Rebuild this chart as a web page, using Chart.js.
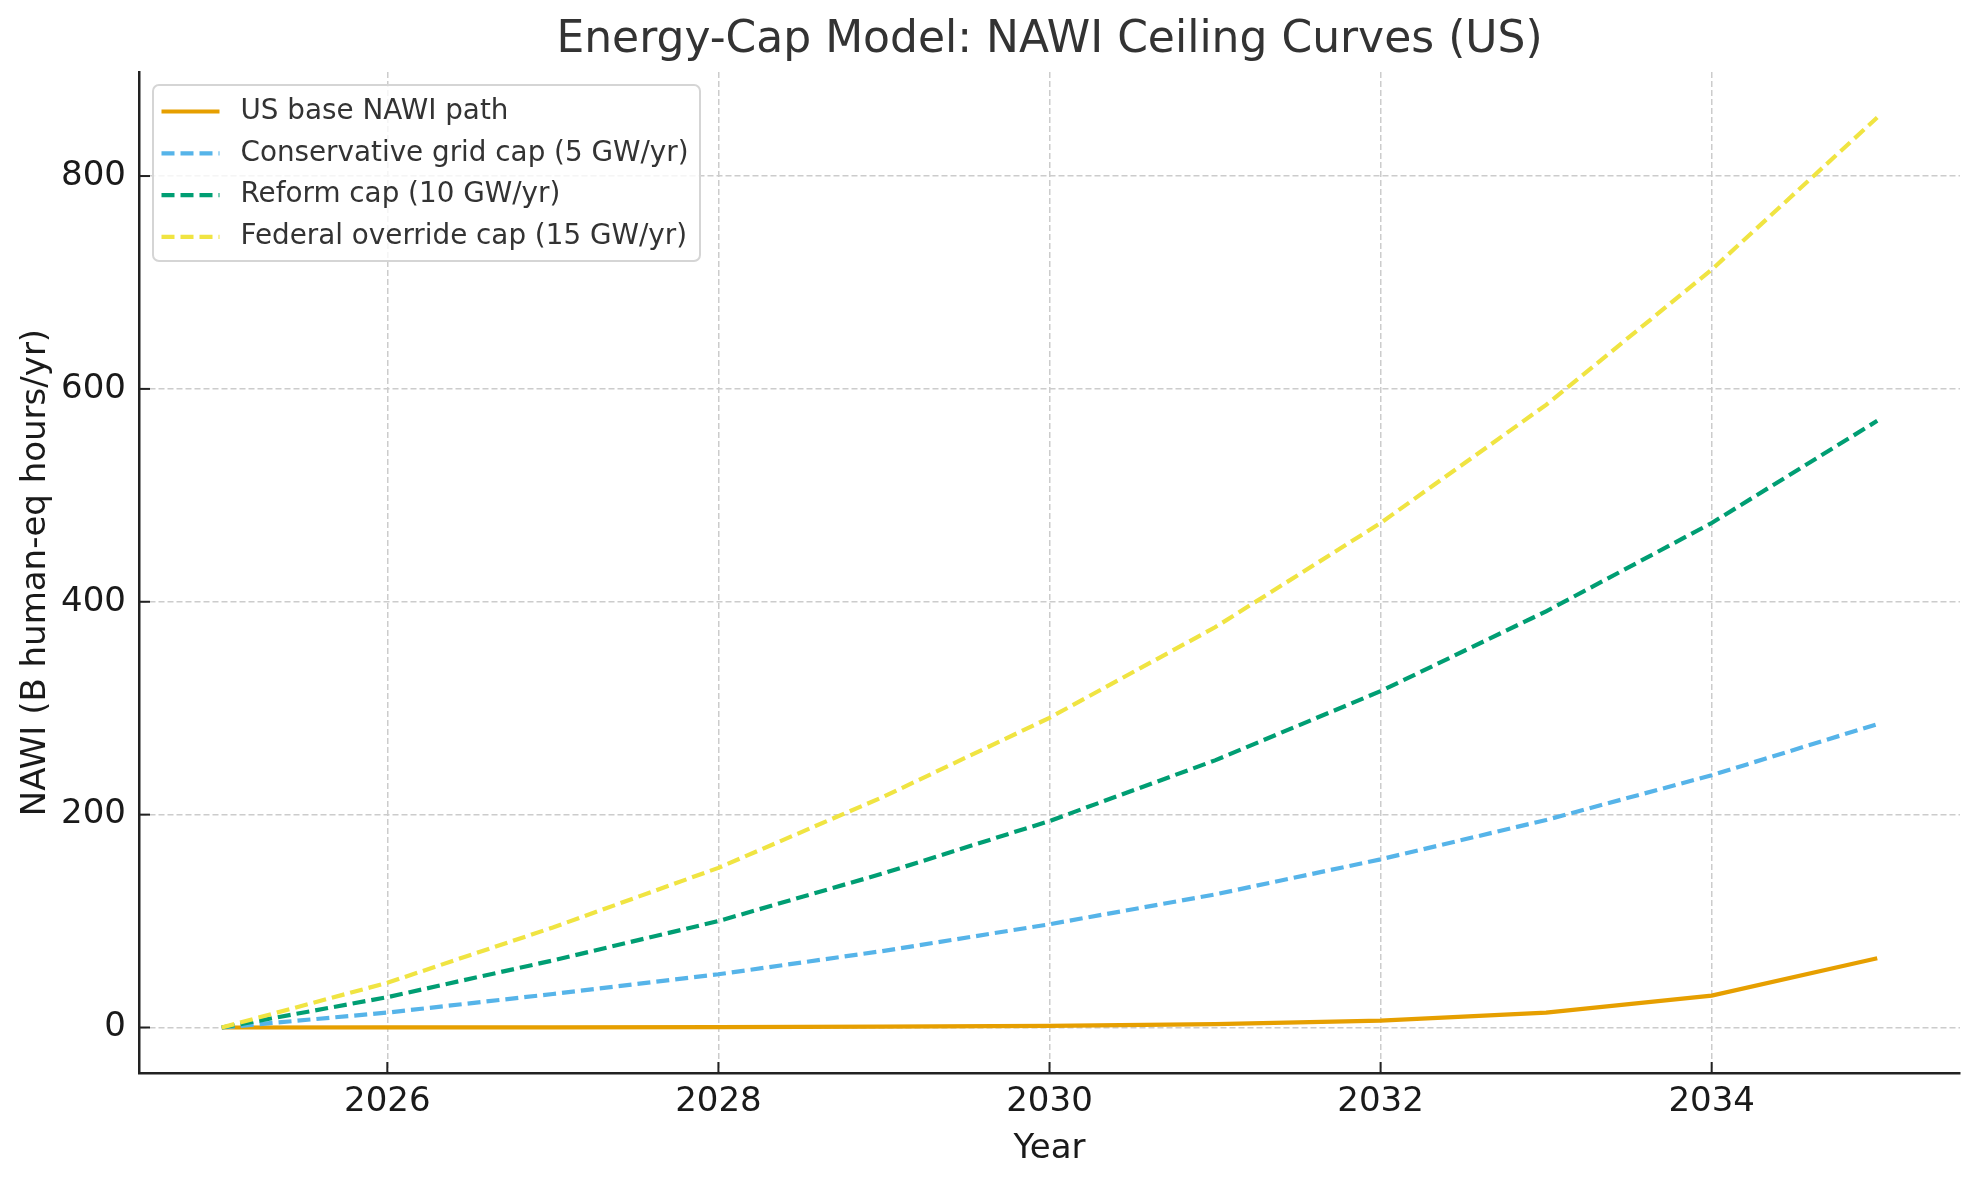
<!DOCTYPE html>
<html>
<head>
<meta charset="utf-8">
<title>Energy-Cap Model: NAWI Ceiling Curves (US)</title>
<script src="https://cdn.jsdelivr.net/npm/chart.js@4.4.1/dist/chart.umd.min.js"></script>
<style>
  html, body { margin: 0; padding: 0; background: #fff; }
  #wrap { width: 1979px; height: 1180px; }
</style>
</head>
<body>
<div id="wrap"><canvas id="nawiChart" width="1979" height="1180"></canvas></div>
<script>
const years = [2025, 2026, 2027, 2028, 2029, 2030, 2031, 2032, 2033, 2034, 2035];

const basePath = [0, 0.1, 0.2, 0.4, 0.8, 1.6, 3.2, 6.5, 14, 30, 65];
const conservativeCap = [0, 14, 31.5, 50, 72, 97, 125, 158, 195, 237, 285];
const reformCap = [0, 28.5, 63, 100, 145, 194, 251, 316, 391, 474, 570];
const federalCap = [0, 42, 94, 150, 217, 291, 376, 474, 585, 712, 855];

const xTicks = [2026, 2028, 2030, 2032, 2034];
const yTicks = [0, 200, 400, 600, 800];

const chartTitle = "Energy-Cap Model: NAWI Ceiling Curves (US)";
const FONT = "'DejaVu Sans', sans-serif";

function toPoints(values) {
  return years.map((yr, i) => ({ x: yr, y: values[i] }));
}

// title centred over the plot area, like matplotlib
const plotTitle = {
  id: "plotTitle",
  afterDraw(chart) {
    const ctx = chart.ctx;
    const area = chart.chartArea;
    ctx.save();
    ctx.font = "44px " + FONT;
    ctx.fillStyle = "#333333";
    ctx.textAlign = "center";
    ctx.textBaseline = "middle";
    ctx.fillText(chartTitle, (area.left + area.right) / 2, 41);
    ctx.restore();
  },
};

// matplotlib-like legend box in the upper left of the plot
const boxLegend = {
  id: "boxLegend",
  afterDraw(chart) {
    const ctx = chart.ctx;
    const area = chart.chartArea;
    const x0 = area.left + 14;
    const y0 = area.top + 13;
    const w = 547;
    const h = 176;
    const rowH = 41.8;

    ctx.save();
    ctx.beginPath();
    ctx.roundRect(x0, y0, w, h, 6);
    ctx.fillStyle = "rgba(255,255,255,0.8)";
    ctx.fill();
    ctx.lineWidth = 2;
    ctx.strokeStyle = "#d5d5d5";
    ctx.stroke();

    ctx.font = "27.8px " + FONT;
    ctx.textBaseline = "middle";
    ctx.textAlign = "left";
    chart.data.datasets.forEach((ds, i) => {
      const cy = y0 + 26.5 + i * rowH;
      ctx.beginPath();
      ctx.setLineDash(ds.borderDash || []);
      ctx.lineWidth = ds.borderWidth;
      ctx.strokeStyle = ds.borderColor;
      ctx.moveTo(x0 + 8.5, cy);
      ctx.lineTo(x0 + 66.5, cy);
      ctx.stroke();
      ctx.setLineDash([]);
      ctx.fillStyle = "#333333";
      ctx.fillText(ds.label, x0 + 87.5, cy);
    });
    ctx.restore();
  },
};

// ticks pointing into the plot, drawn through the scales
const innerTicks = {
  id: "innerTicks",
  afterDraw(chart) {
    const ctx = chart.ctx;
    const area = chart.chartArea;
    const xs = chart.scales.x;
    const ys = chart.scales.y;
    ctx.save();
    ctx.strokeStyle = "#222222";
    ctx.lineWidth = 2;
    xTicks.forEach((t) => {
      const px = xs.getPixelForValue(t);
      ctx.beginPath();
      ctx.moveTo(px, area.bottom);
      ctx.lineTo(px, area.bottom - 11);
      ctx.stroke();
    });
    yTicks.forEach((t) => {
      const py = ys.getPixelForValue(t);
      ctx.beginPath();
      ctx.moveTo(area.left, py);
      ctx.lineTo(area.left + 11, py);
      ctx.stroke();
    });
    ctx.restore();
  },
};

const lineDash = [13, 6];

const datasets = [
  {
    label: "US base NAWI path",
    data: toPoints(basePath),
    borderColor: "#E69F00",
    borderWidth: 4.2,
    order: 3,
  },
  {
    label: "Conservative grid cap (5 GW/yr)",
    data: toPoints(conservativeCap),
    borderColor: "#56B4E9",
    borderWidth: 4.2,
    borderDash: lineDash,
    order: 2,
  },
  {
    label: "Reform cap (10 GW/yr)",
    data: toPoints(reformCap),
    borderColor: "#009E73",
    borderWidth: 4.2,
    borderDash: lineDash,
    order: 1,
  },
  {
    label: "Federal override cap (15 GW/yr)",
    data: toPoints(federalCap),
    borderColor: "#F0E442",
    borderWidth: 4.2,
    borderDash: lineDash,
    order: 0,
  },
];

const gridStyle = {
  color: "#cccccc",
  lineWidth: 1.5,
  drawTicks: false,
};

// in Chart.js v4 border.dash sets the dash of the grid lines
const axisBorder = { display: true, color: "#222222", width: 2.5, dash: [6, 3] };

const tickFont = { family: FONT, size: 34, lineHeight: 1.2 };

new Chart(document.getElementById("nawiChart"), {
  type: "line",
  data: { datasets: datasets },
  plugins: [plotTitle, boxLegend, innerTicks],
  options: {
    responsive: false,
    animation: false,
    devicePixelRatio: 1,
    layout: { padding: { left: 0, right: 19, top: 72, bottom: 0 } },
    elements: {
      point: { radius: 0 },
      line: { tension: 0, fill: false, borderCapStyle: "butt" },
    },
    plugins: {
      legend: { display: false },
      tooltip: { enabled: false },
      title: { display: false },
    },
    scales: {
      x: {
        type: "linear",
        min: 2024.5,
        max: 2035.5,
        afterBuildTicks(scale) {
          scale.ticks = xTicks.map((v) => ({ value: v }));
        },
        afterFit(scale) {
          scale.height = 107;
        },
        grid: gridStyle,
        border: axisBorder,
        ticks: {
          color: "#1a1a1a",
          font: tickFont,
          padding: 9,
          maxRotation: 0,
          callback: (v) => String(v),
        },
        title: {
          display: true,
          text: "Year",
          color: "#1a1a1a",
          font: tickFont,
          padding: { top: 0, bottom: 10 },
        },
      },
      y: {
        type: "linear",
        min: -42.75,
        max: 897.75,
        afterBuildTicks(scale) {
          scale.ticks = yTicks.map((v) => ({ value: v }));
        },
        afterFit(scale) {
          scale.width = 139;
        },
        grid: gridStyle,
        border: axisBorder,
        ticks: {
          color: "#1a1a1a",
          font: tickFont,
          padding: 13,
          callback: (v) => String(v),
        },
        title: {
          display: true,
          text: "NAWI (B human-eq hours/yr)",
          color: "#1a1a1a",
          font: tickFont,
          padding: { top: 16 },
        },
      },
    },
  },
});
</script>
</body>
</html>
